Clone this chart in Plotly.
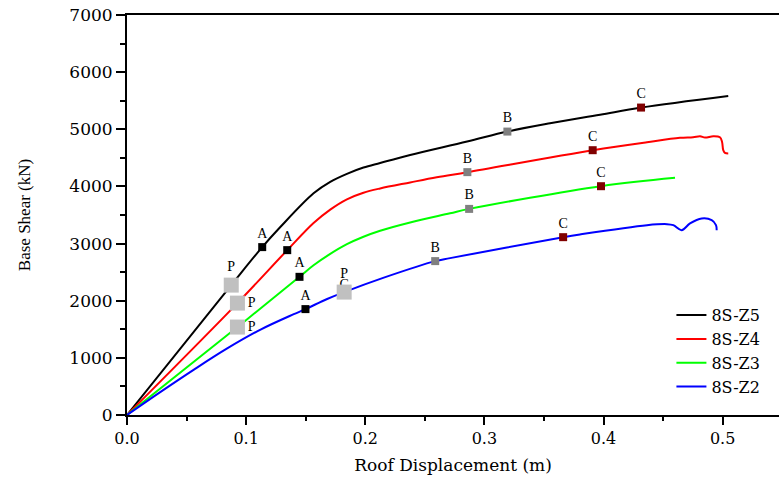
import plotly.graph_objects as go

# ---- data ----
z5_disp = [0, 0.0875, 0.1135, 0.1287, 0.1566, 0.1706, 0.1846, 0.1985, 0.2125, 0.2377, 0.2855, 0.3193, 0.3551, 0.3971, 0.4315, 0.5047]
z5_shear = [0, 2273, 2938, 3290, 3880, 4080, 4220, 4330, 4410, 4550, 4785, 4960, 5105, 5255, 5380, 5583]

z4_disp = [0, 0.0927, 0.1345, 0.1566, 0.1706, 0.1846, 0.1985, 0.2125, 0.2377, 0.26, 0.2857, 0.3909, 0.4365, 0.4642, 0.4752, 0.481, 0.4852, 0.4921, 0.4977, 0.4995, 0.5005, 0.5019, 0.5047]
z4_shear = [0, 1958, 2885, 3360, 3595, 3775, 3890, 3965, 4070, 4160, 4250, 4634, 4774, 4850, 4860, 4878, 4856, 4878, 4861, 4779, 4634, 4587, 4576]

z3_disp = [0, 0.0927, 0.1448, 0.1566, 0.1706, 0.1846, 0.1985, 0.2125, 0.2377, 0.2712, 0.2872, 0.3979, 0.46]
z3_shear = [0, 1539, 2418, 2620, 2820, 2990, 3120, 3225, 3370, 3530, 3607, 4004, 4150]

z2_disp = [0, 0.0282, 0.0562, 0.0841, 0.1121, 0.14, 0.1498, 0.168, 0.1823, 0.215, 0.2587, 0.2712, 0.3661, 0.3802, 0.4365, 0.4533, 0.4586, 0.4656, 0.4726, 0.4824, 0.4908, 0.4944, 0.495]
z2_shear = [0, 405, 795, 1165, 1495, 1765, 1853, 2030, 2151, 2400, 2693, 2745, 3112, 3160, 3322, 3340, 3322, 3235, 3352, 3439, 3410, 3322, 3235]

series_names = ["8S-Z5", "8S-Z4", "8S-Z3", "8S-Z2"]
series_colors = ["#000000", "#ff0000", "#00ff00", "#0000ff"]

# performance points (Z5, Z4, Z3, Z2)
pA_x = [0.1135, 0.1345, 0.1448, 0.1498]
pA_y = [2938, 2885, 2418, 1853]
pB_x = [0.3193, 0.2857, 0.2872, 0.2587]
pB_y = [4960, 4250, 3607, 2693]
pC_x = [0.4315, 0.3909, 0.3979, 0.3661]
pC_y = [5380, 4634, 4004, 3112]
pP_x = [0.0875, 0.0927, 0.0927, 0.1823]
pP_y = [2273, 1958, 1539, 2151]
pP_pos = ["top center", "middle right", "middle right", "top center"]

x_ticks = [0.0, 0.1, 0.2, 0.3, 0.4, 0.5]
x_ticklabels = ["0.0", "0.1", "0.2", "0.3", "0.4", "0.5"]
y_ticks = [0, 1000, 2000, 3000, 4000, 5000, 6000, 7000]

SERIF = "DejaVu Serif"
TIMES = "Liberation Serif"

fig = go.Figure()
curves = [(z5_disp, z5_shear), (z4_disp, z4_shear), (z3_disp, z3_shear), (z2_disp, z2_shear)]
for (dx, dy), name, col in zip(curves, series_names, series_colors):
    fig.add_trace(go.Scatter(x=dx, y=dy, mode="lines", name=name,
                             line=dict(color=col, width=2, shape="spline", smoothing=1.0)))

lab_font = dict(family=TIMES, size=14, color="black")

# "C" label partly hidden underneath the blue P marker
fig.add_trace(go.Scatter(x=[pP_x[3]], y=[pP_y[3]], mode="text", text=["C"],
                         textposition="top center", textfont=lab_font,
                         showlegend=False, hoverinfo="skip"))

fig.add_trace(go.Scatter(x=pP_x, y=pP_y, mode="markers+text", text=["P"] * 4,
                         textposition=pP_pos, textfont=lab_font,
                         marker=dict(symbol="square", size=15, color="#c0c0c0"),
                         showlegend=False))
fig.add_trace(go.Scatter(x=pA_x, y=pA_y, mode="markers+text", text=["A"] * 4,
                         textposition="top center", textfont=lab_font,
                         marker=dict(symbol="square", size=8, color="#000000"),
                         showlegend=False))
fig.add_trace(go.Scatter(x=pB_x, y=pB_y, mode="markers+text", text=["B"] * 4,
                         textposition="top center", textfont=lab_font,
                         marker=dict(symbol="square", size=8, color="#808080"),
                         showlegend=False))
fig.add_trace(go.Scatter(x=pC_x, y=pC_y, mode="markers+text", text=["C"] * 4,
                         textposition="top center", textfont=lab_font,
                         marker=dict(symbol="square", size=8, color="#800000"),
                         showlegend=False))

fig.update_layout(
    width=779, height=479,
    margin=dict(l=127, r=0, t=15, b=64),
    paper_bgcolor="white", plot_bgcolor="white",
    showlegend=True,
    legend=dict(x=0.835, y=0.292, xanchor="left", yanchor="top",
                font=dict(family=SERIF, size=16, color="black"),
                bgcolor="rgba(0,0,0,0)", tracegroupgap=0),
    xaxis=dict(range=[0, 0.5473], tickvals=x_ticks, ticktext=x_ticklabels,
               showgrid=False, zeroline=False, showline=True, linecolor="black",
               linewidth=2, mirror=True, ticks="outside", ticklen=8, tickwidth=2,
               tickcolor="black",
               tickfont=dict(family=SERIF, size=16, color="black"),
               minor=dict(dtick=0.05, tick0=0, ticks="outside", ticklen=4,
                          tickwidth=2, tickcolor="black"),
               title=dict(text="Roof Displacement (m)",
                          font=dict(family=SERIF, size=17, color="black"),
                          standoff=12)),
    yaxis=dict(range=[0, 7000], tickvals=y_ticks,
               showgrid=False, zeroline=False, showline=True, linecolor="black",
               linewidth=2, mirror=False, ticks="outside", ticklen=9, tickwidth=2,
               tickcolor="black",
               tickfont=dict(family=SERIF, size=17, color="black"),
               minor=dict(dtick=500, tick0=0, ticks="outside", ticklen=5,
                          tickwidth=2, tickcolor="black"),
               title=dict(text="Base Shear (kN)",
                          font=dict(family=TIMES, size=17, color="black"),
                          standoff=34)),
)

fig.write_html("out.html")
